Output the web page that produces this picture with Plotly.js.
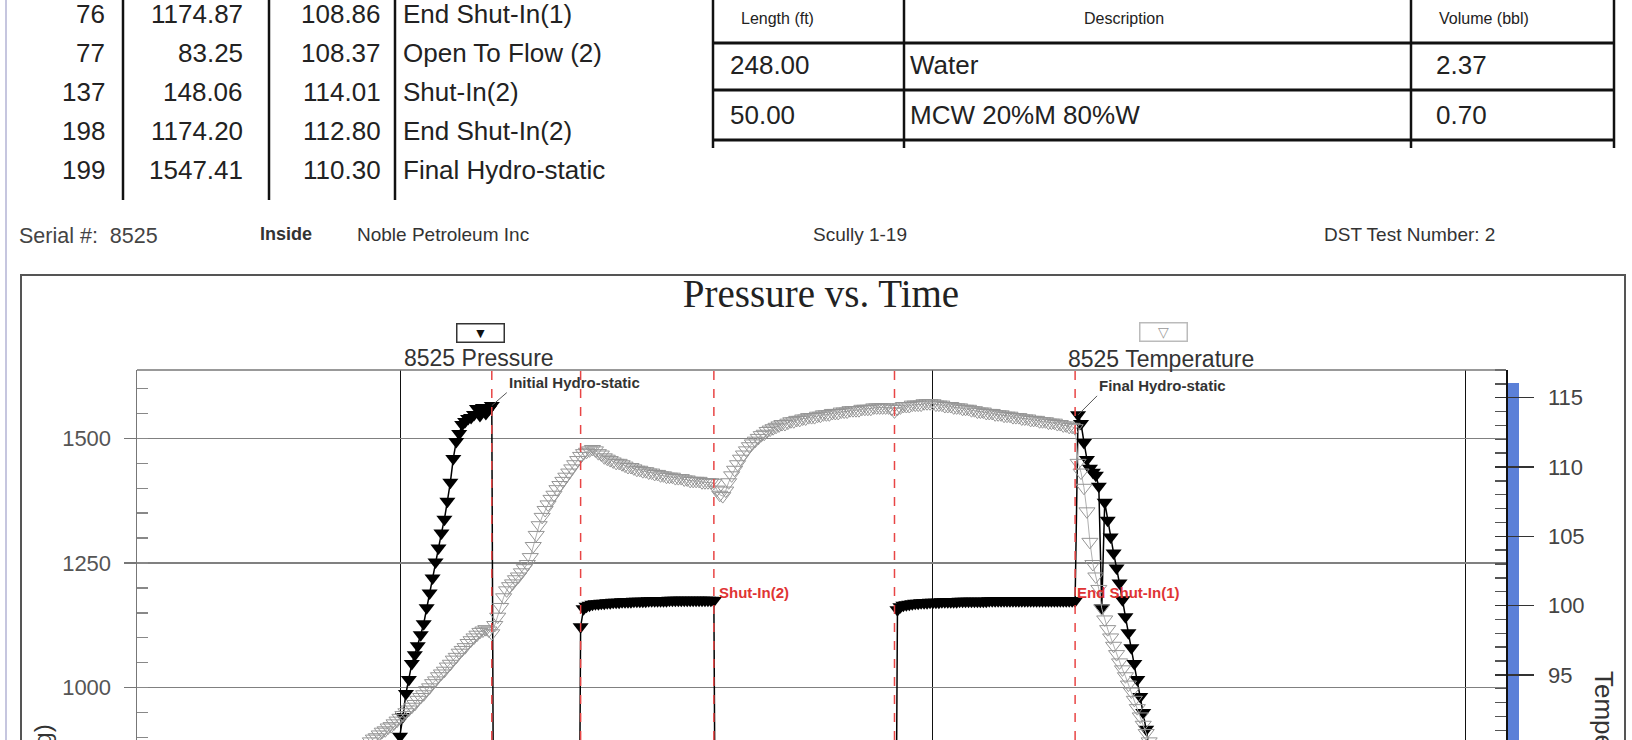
<!DOCTYPE html>
<html><head><meta charset="utf-8">
<script src="https://cdn.plot.ly/plotly-3.0.1.min.js"></script>
<style>html,body{margin:0;padding:0;background:#fff;overflow:hidden}#chart{width:1632px;height:740px}</style>
</head><body><div id="chart"></div>
<script>
// ---------- table data (top-left: event readings) ----------
const readingNo   = [76, 77, 137, 198, 199];
const readingPsi  = [1174.87, 83.25, 148.06, 1174.20, 1547.41];
const readingTemp = [108.86, 108.37, 114.01, 112.80, 110.30];
const readingNote = ['End Shut-In(1)', 'Open To Flow (2)', 'Shut-In(2)', 'End Shut-In(2)', 'Final Hydro-static'];

// ---------- table data (top-right: recovery) ----------
const recHeaders  = ['Length (ft)', 'Description', 'Volume (bbl)'];
const recLength   = [248.00, 50.00];
const recDesc     = ['Water', 'MCW 20%M 80%W'];
const recVolume   = [2.37, 0.70];

// ---------- header line ----------
const serialText  = 'Serial #:  8525';
const insideText  = 'Inside';
const companyText = 'Noble Petroleum Inc';
const wellText    = 'Scully 1-19';
const dstText     = 'DST Test Number: 2';

// ---------- gauge series (one reading per minute) ----------
const pressureStart = 178;   // minute of first pressure reading
const pressure = [
  830, 866, 902, 942, 988, 1016, 1048, 1066, 1084, 1106,
  1128, 1160, 1190, 1220, 1252, 1280, 1310, 1338, 1374, 1412,
  1460, 1494, 1510, 1528, 1534, 1540, 1542, 1548, 1560, 1546,
  1562, 1550, 1558, 1566,
  58, 44, 50, 56, 61, 66, 70, 74, 78, 81,
  84, 87, 90, 93, 95, 98, 100, 102, 104, 106,
  108, 110, 112, 113, 115, 117, 118, 120, 121,
  1122, 1158, 1163, 1165, 1167, 1168, 1168, 1169, 1169, 1170,
  1170, 1171, 1171, 1171, 1172, 1172, 1172, 1172, 1173, 1173,
  1173, 1173, 1173, 1174, 1174, 1174, 1174, 1174, 1174, 1174,
  1175, 1175, 1175, 1175, 1175, 1175, 1175, 1175, 1175, 1175,
  1175, 1175, 1175, 1175, 1175, 1174.87,
  83.25, 86, 89, 91, 93, 95, 97, 99, 101, 103,
  104, 106, 107, 109, 110, 111, 113, 114, 115, 116,
  118, 119, 120, 121, 122, 123, 124, 125, 126, 127,
  128, 129, 130, 131, 132, 132, 133, 134, 135, 136,
  137, 137, 138, 139, 140, 140, 141, 142, 142, 143,
  144, 144, 145, 145, 146, 146, 147, 147, 148, 148,
  148.06, 1156, 1162, 1165, 1166, 1167, 1168, 1169, 1169, 1170,
  1170, 1170, 1171, 1171, 1171, 1171, 1172, 1172, 1172, 1172,
  1172, 1172, 1173, 1173, 1173, 1173, 1173, 1173, 1173, 1173,
  1173, 1173, 1174, 1174, 1174, 1174, 1174, 1174, 1174, 1174,
  1174, 1174, 1174, 1174, 1174, 1174, 1174, 1174, 1174, 1174,
  1174, 1174, 1174, 1174, 1174, 1174, 1174, 1174, 1174, 1174,
  1174, 1174.20,
  1547.41, 1530, 1492, 1458, 1440, 1432, 1426, 1404, 1160, 1372,
  1336, 1302, 1270, 1240, 1210, 1176, 1142, 1110, 1080, 1048,
  1016, 982, 950, 916, 884, 850, 818
];
const temperatureStart = 165;
const temperature = [
  89.4, 89.6, 89.8, 89.9, 90.0, 90.2, 90.4, 90.5, 90.7, 90.9,
  91.0, 91.2, 91.3, 91.5, 91.7, 91.9, 92.1, 92.3, 92.5, 92.7,
  92.9, 93.2, 93.4, 93.6, 93.9, 94.1, 94.4, 94.6, 94.9, 95.1,
  95.3, 95.6, 95.8, 96.1, 96.3, 96.6, 96.8, 97.0, 97.3, 97.5,
  97.7, 97.9, 98.1, 98.2, 98.3, 98.2, 98.0, 98.6, 99.2, 99.9,
  100.6, 101.1, 101.4, 101.6, 101.9, 102.1, 102.4, 102.7, 103.0, 103.5,
  104.3, 105.1, 105.8, 106.4, 106.9, 107.3, 107.7, 108.0, 108.4, 108.7,
  109.0, 109.3, 109.6, 109.9, 110.2, 110.5, 110.8, 111.0, 111.1, 111.2,
  111.3, 111.2, 111.0, 110.9, 110.7, 110.6, 110.5, 110.4, 110.3, 110.3,
  110.2, 110.1, 110.0, 110.0, 109.9, 109.8, 109.8, 109.7, 109.7, 109.6,
  109.6, 109.5, 109.5, 109.4, 109.4, 109.3, 109.3, 109.3, 109.2, 109.2,
  109.2, 109.1, 109.1, 109.0, 109.0, 109.0, 109.0, 108.9, 108.9, 108.9,
  108.9, 108.86, 108.37, 108.0, 107.9, 108.3, 108.9, 109.4, 109.8, 110.2,
  110.6, 110.9, 111.2, 111.5, 111.7, 111.9, 112.1, 112.3, 112.4, 112.6,
  112.7, 112.8, 112.9, 113.0, 113.1, 113.1, 113.2, 113.3, 113.3, 113.4,
  113.4, 113.5, 113.5, 113.6, 113.6, 113.6, 113.7, 113.7, 113.8, 113.8,
  113.8, 113.9, 113.9, 113.9, 114.0, 114.0, 114.0, 114.1, 114.1, 114.1,
  114.1, 114.2, 114.2, 114.2, 114.2, 114.3, 114.3, 114.3, 114.3, 114.3,
  114.3, 114.2, 114.01, 114.2, 114.3, 114.4, 114.4, 114.4, 114.5, 114.5,
  114.5, 114.5, 114.6, 114.6, 114.6, 114.6, 114.5, 114.5, 114.5, 114.4,
  114.4, 114.4, 114.3, 114.3, 114.3, 114.2, 114.2, 114.2, 114.1, 114.1,
  114.0, 114.0, 114.0, 113.9, 113.9, 113.9, 113.8, 113.8, 113.8, 113.7,
  113.7, 113.7, 113.6, 113.6, 113.6, 113.5, 113.5, 113.5, 113.4, 113.4,
  113.4, 113.3, 113.3, 113.3, 113.2, 113.2, 113.2, 113.1, 113.1, 113.0,
  113.0, 112.9, 112.9, 112.80, 110.30, 109.6, 108.5, 106.8, 104.6, 103.0,
  102.1, 101.2, 99.8, 99.0, 98.3, 97.7, 97.1, 96.5, 95.9, 95.4,
  94.9, 94.3, 93.8, 93.2, 92.6, 92.0, 91.4, 90.8, 90.2, 89.6
];

// ---------- test events (minute) and labels ----------
const eventTimes  = [211, 241, 286, 347, 408];
const hydroLabels = [{t: 211, p: 1566, text: 'Initial Hydro-static'}, {t: 409, p: 1547.41, text: 'Final Hydro-static'}];
const redLabels   = [{t: 287, p: 1190, text: 'Shut-In(2)'}, {t: 408, p: 1190, text: 'End Shut-In(1)'}];

// ---------- axis ranges ----------
const timeRange = [91.18, 553.52];
const psiRange  = [894.6, 1637.5];
const tempRange = [90.3, 117.0];

// ---------- page geometry helpers (pixel -> paper) ----------
const L = 137, R = 1506, T = 370, B = 740;
const X = p => (p - L) / (R - L);
const Y = p => (B - p) / (B - T);
const SANS = 'Liberation Sans, Arial, sans-serif';
const SERIF = 'Liberation Serif, Times New Roman, serif';

const ann = [];
const shp = [];
function txt(text, xp, yp, size, anchor, color, extra) {
  ann.push(Object.assign({xref: 'paper', yref: 'paper', x: X(xp), y: Y(yp), text: text,
    showarrow: false, xanchor: anchor || 'left', yanchor: 'middle',
    font: {family: SANS, size: size, color: color || '#222'}}, extra || {}));
}
function line(x0, y0, x1, y1, color, width, dash) {
  shp.push({type: 'line', xref: 'paper', yref: 'paper', x0: X(x0), y0: Y(y0), x1: X(x1), y1: Y(y1),
    line: {color: color, width: width, dash: dash || 'solid'}});
}

// page border at left
line(6, 0, 6, 740, '#c6c6df', 2);

// top-left table
[123, 269, 395].forEach(x => line(x, 0, x, 200, '#111', 2.5));
readingNo.forEach((n, i) => {
  const y = 14 + i * 39;
  txt(String(n), 107, y, 26, 'right');
  txt(readingPsi[i].toFixed(2), 245, y, 26, 'right');
  txt(readingTemp[i].toFixed(2), 383, y, 26, 'right');
  txt(readingNote[i], 401, y, 26, 'left');
});

// top-right table
[713, 904, 1411, 1614].forEach(x => line(x, 0, x, 148, '#111', 2.5));
[43, 90, 140].forEach(y => line(713, y, 1614, y, '#111', 3));
txt(recHeaders[0], 739, 18, 16, 'left');
txt(recHeaders[1], 1124, 18, 16, 'center');
txt(recHeaders[2], 1437, 18, 16, 'left');
recLength.forEach((v, i) => {
  const y = 65 + i * 50;
  txt(v.toFixed(2), 728, y, 26, 'left');
  txt(recDesc[i], 908, y, 26, 'left');
  txt(recVolume[i].toFixed(2), 1434, y, 26, 'left');
});

// header line above chart
txt(serialText, 17, 236, 21.5, 'left', '#444');
txt('<b>' + insideText + '</b>', 258, 234, 18, 'left', '#333');
txt(companyText, 355, 234, 19, 'left', '#333');
txt(wellText, 860, 234, 19, 'center', '#333');
txt(dstText, 1322, 234, 19, 'left', '#333');

// chart frame
shp.push({type: 'rect', xref: 'paper', yref: 'paper', x0: X(21), x1: X(1625), y0: Y(275), y1: Y(790),
  line: {color: '#555', width: 2}, fillcolor: 'rgba(0,0,0,0)', layer: 'below'});
line(L, T, R, T, '#777', 1.5);
// blue band beside the temperature axis
shp.push({type: 'rect', xref: 'paper', yref: 'paper', x0: X(1507), x1: X(1519), y0: Y(383), y1: Y(760),
  line: {width: 0}, fillcolor: '#5b80d8', layer: 'below'});

// legend-like keys
txt('▼', 480, 333, 14, 'center', '#111', {bordercolor: '#333', borderwidth: 1.5, width: 46, height: 17, borderpad: 0});
txt('8525 Pressure', 479, 358, 23, 'center', '#333');
txt('▽', 1163, 332, 14, 'center', '#999', {bordercolor: '#bbb', borderwidth: 1.5, width: 46, height: 17, borderpad: 0});
txt('8525 Temperature', 1161, 359, 23, 'center', '#333');

// axis titles (partly cut off by the page edge)
txt('Pressure (psig)', 42, 806, 24, 'center', '#333', {textangle: -90});
txt('Temperature (deg F)', 1604, 789, 26, 'center', '#333', {textangle: 90});

// event lines
eventTimes.forEach(t => shp.push({type: 'line', xref: 'x', yref: 'paper', x0: t, x1: t, y0: 0, y1: 1,
  line: {color: '#e84545', width: 1.5, dash: 'dash'}}));

// event labels
hydroLabels.forEach((h, i) => ann.push({xref: 'x', yref: 'y', x: h.t, y: h.p, text: '<b>' + h.text + '</b>',
  showarrow: true, arrowhead: 0, arrowwidth: 1, arrowcolor: '#555', ax: i === 0 ? 15 : 19, ay: i === 0 ? -13 : -19,
  xanchor: 'left', yanchor: 'bottom', font: {family: SANS, size: 15, color: '#333'}}));
redLabels.forEach(r => ann.push({xref: 'x', yref: 'y', x: r.t, y: r.p, text: '<b>' + r.text + '</b>',
  showarrow: false, xanchor: 'left', yanchor: 'middle', font: {family: SANS, size: 15, color: '#e03434'}}));

const traces = [
  {type: 'scatter', mode: 'lines+markers', x0: temperatureStart, dx: 1, y: temperature, yaxis: 'y2',
   line: {color: '#b0b0b0', width: 1}, marker: {symbol: 'triangle-down-open', size: 14, color: '#959595', line: {width: 1}},
   showlegend: false, name: '8525 Temperature', cliponaxis: true},
  {type: 'scatter', mode: 'lines+markers', x0: pressureStart, dx: 1, y: pressure,
   line: {color: '#000', width: 1.5}, marker: {symbol: 'triangle-down', size: 14, color: '#000'},
   showlegend: false, name: '8525 Pressure', cliponaxis: true},
  {type: 'scatter', mode: 'markers', x: [], y: [], yaxis: 'y3', showlegend: false}
];

const layout = {
  width: 1632, height: 740,
  margin: {l: L, r: 1632 - R, t: T, b: 0, pad: 0},
  paper_bgcolor: '#fff', plot_bgcolor: '#fff',
  showlegend: false,
  title: {text: 'Pressure vs. Time', x: 821 / 1632, y: 1 - 293 / 740, xref: 'container', yref: 'container',
          xanchor: 'center', yanchor: 'middle', font: {family: SERIF, size: 39, color: '#222'}},
  xaxis: {range: timeRange, tick0: 0, dtick: 180, showgrid: true, gridcolor: '#111', gridwidth: 1,
          showticklabels: false, ticks: '', zeroline: false, showline: false, automargin: false},
  yaxis: {range: psiRange, tick0: 0, dtick: 250, showgrid: true, gridcolor: '#808080', gridwidth: 1.5,
          showline: true, linecolor: '#777', linewidth: 1.5, ticks: 'outside', ticklen: 12, tickwidth: 1.5, tickcolor: '#777',
          tickfont: {family: SANS, size: 22, color: '#555'}, ticklabelstandoff: 8,
          minor: {dtick: 50, tick0: 0, ticks: 'inside', ticklen: 11, tickcolor: '#888', tickwidth: 1.5, showgrid: false},
          zeroline: false, automargin: false},
  yaxis2: {range: tempRange, overlaying: 'y', side: 'right', anchor: 'x', tick0: 0, dtick: 5, showgrid: false,
           showline: true, linecolor: '#111', linewidth: 1.5, ticks: 'outside', ticklen: 26, tickwidth: 1.5, tickcolor: '#333',
           tickfont: {family: SANS, size: 22, color: '#444'}, ticklabelstandoff: 10,
           minor: {dtick: 1, tick0: 0, ticks: 'inside', ticklen: 11, tickcolor: '#555', tickwidth: 1.5, showgrid: false},
           zeroline: false, automargin: false},
  yaxis3: {range: tempRange, overlaying: 'y', side: 'right', anchor: 'x', tick0: 0, dtick: 5, showgrid: false,
           showline: false, ticks: 'inside', ticklen: 11, tickwidth: 1.5, tickcolor: '#333', showticklabels: false,
           zeroline: false, automargin: false},
  shapes: shp,
  annotations: ann
};

Plotly.newPlot('chart', traces, layout, {staticPlot: true, displayModeBar: false});
</script></body></html>
